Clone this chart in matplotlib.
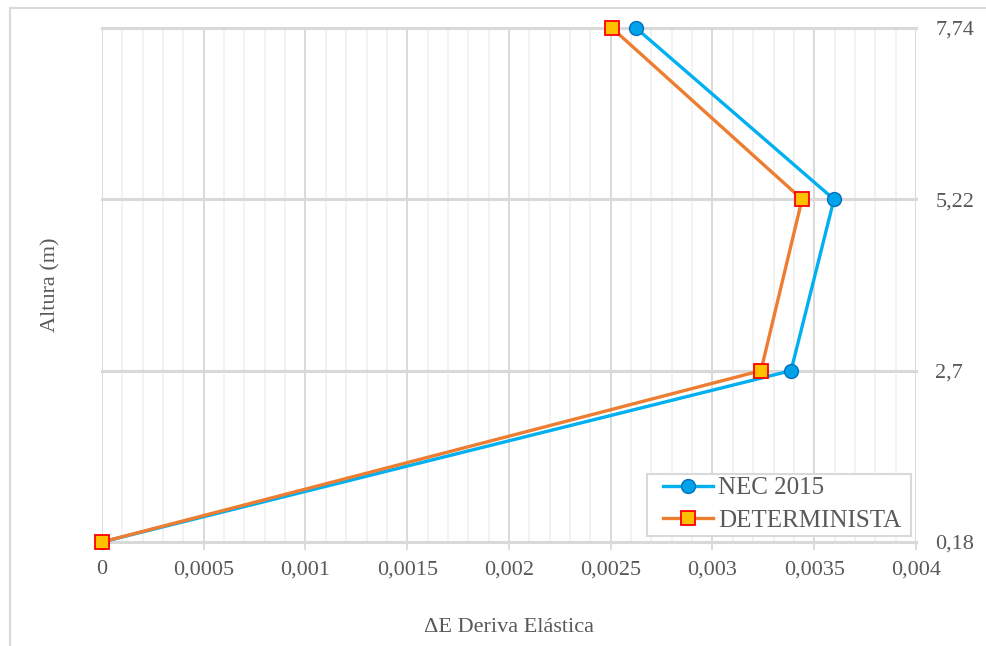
import matplotlib
matplotlib.use("Agg")
import matplotlib.pyplot as plt
from matplotlib.ticker import FixedLocator
from matplotlib.lines import Line2D
from matplotlib.patches import Rectangle

plt.rcParams['font.family'] = ['Liberation Serif', 'DejaVu Serif']

# Data
heights = [0.18, 2.7, 5.22, 7.74]
height_labels = ["0,18", "2,7", "5,22", "7,74"]
nec_2015 = [0.0, 0.003386, 0.003597, 0.002624]
determinista = [0.0, 0.003238, 0.003440, 0.002506]
x_ticks = [0, 0.0005, 0.001, 0.0015, 0.002, 0.0025, 0.003, 0.0035, 0.004]
x_tick_labels = ["0", "0,0005", "0,001", "0,0015", "0,002", "0,0025", "0,003", "0,0035", "0,004"]

W, H = 987, 646
fig = plt.figure(figsize=(W / 100, H / 100), dpi=100)
ax = fig.add_axes([102 / W, 1 - 542 / H, (916 - 102) / W, (542 - 28) / H])

txt = '#595959'
grid_major = '#d9d9d9'
grid_minor = '#f0f0f0'

ax.set_xlim(0, 0.004)
ax.set_ylim(0.18, 7.74)

# Grid lines
for i in range(41):
    xv = i * 0.0001
    if i % 5 == 0:
        ax.axvline(xv, color=grid_major, lw=1.4, zorder=0)
    else:
        ax.axvline(xv, color=grid_minor, lw=1.2, zorder=0)
for yv in heights:
    ax.axhline(yv, color=grid_major, lw=2.2, zorder=0.5, clip_on=False)

ax.plot(nec_2015, heights, color='#00B0F0', lw=2.4, marker='o', markersize=10,
        markerfacecolor='#00A2E8', markeredgecolor='#0070C0', markeredgewidth=1.0,
        label='NEC 2015', zorder=3, clip_on=False)
ax.plot(determinista, heights, color='#ED7D31', lw=2.4, marker='s', markersize=9.5,
        markerfacecolor='#FFC000', markeredgecolor='#FF0000', markeredgewidth=1.3,
        label='DETERMINISTA', zorder=4, clip_on=False)

for s in ax.spines.values():
    s.set_visible(False)

ax.xaxis.set_major_locator(FixedLocator(x_ticks))
ax.set_xticklabels(x_tick_labels)
ax.tick_params(axis='x', which='major', length=6, width=1.3, color=grid_major,
               labelsize=16, labelcolor=txt, pad=7)
ax.tick_params(axis='x', which='minor', length=0)

ax.yaxis.tick_right()
ax.set_yticks(heights)
ax.set_yticklabels(height_labels)
ax.tick_params(axis='y', length=0, labelsize=16, labelcolor=txt, pad=14)

ax.set_xlabel('ΔE Deriva Elástica', fontsize=16, color=txt, labelpad=28)
ax.set_ylabel('Altura (m)', fontsize=16, color=txt, labelpad=30)
ax.yaxis.set_label_position('left')

# legend box
ax.add_patch(Rectangle((647 / W, 1 - 536 / H), (911 - 647) / W, (536 - 474) / H,
                       transform=fig.transFigure, facecolor='white',
                       edgecolor=grid_major, lw=1.5, zorder=4.5, clip_on=False))
leg = ax.legend(loc='upper left', bbox_to_anchor=(663 / W, 1 - 477 / H),
                bbox_transform=fig.transFigure, fontsize=18, frameon=False,
                handlelength=2.0, handletextpad=0.2, borderpad=0.0,
                labelspacing=0.4, borderaxespad=0)
leg.set_zorder(5)
for t in leg.get_texts():
    t.set_color(txt)

# outer chart frame (top and left edges visible)
fig.add_artist(Line2D([10 / W, 10 / W], [0, 1 - 8 / H], transform=fig.transFigure,
                      color=grid_major, lw=1.5))
fig.add_artist(Line2D([10 / W, 1], [1 - 8 / H, 1 - 8 / H], transform=fig.transFigure,
                      color=grid_major, lw=1.5))

fig.savefig('out.png', dpi=100)
